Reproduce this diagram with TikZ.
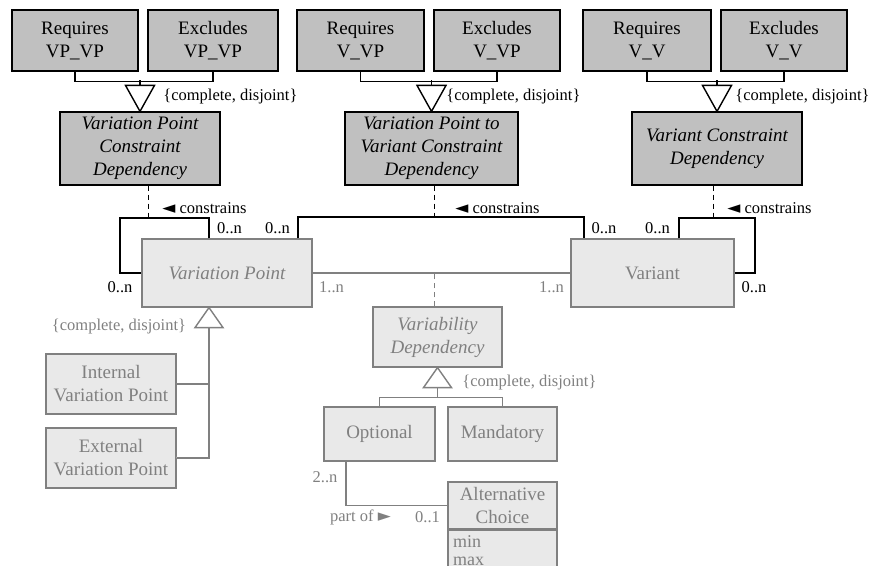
\documentclass[tikz,border=0pt]{standalone}
\usepackage{fontspec}
\setmainfont{Liberation Serif}
\newfontfamily\symfont{DejaVu Sans}
\definecolor{boxdark}{RGB}{192,192,192}
\definecolor{boxlight}{RGB}{233,233,233}
\definecolor{umlgrey}{RGB}{128,128,128}
\newcommand{\boxfont}{\fontsize{9.5}{11.5}\selectfont}
\newcommand{\lblfont}{\fontsize{8.25}{10}\selectfont}
\newcommand{\lpoint}{{\symfont\fontsize{8.5}{8.5}\selectfont ◄}}
\newcommand{\rpoint}{{\symfont\fontsize{8.5}{8.5}\selectfont ►}}

\begin{document}
\begin{tikzpicture}[x=0.5pt,y=-0.5pt,
	dark/.style={draw,line width=0.6pt,fill=boxdark,align=center,font=\boxfont,inner sep=1pt},
	light/.style={draw=umlgrey,line width=0.6pt,fill=boxlight,text=umlgrey,align=center,font=\boxfont,inner sep=1pt},
	lbl/.style={font=\lblfont,inner sep=0pt},
	glbl/.style={lbl,text=umlgrey},
	assoc/.style={line width=1pt},
	gassoc/.style={line width=0.8pt,draw=umlgrey},
	gen/.style={line width=0.7pt,fill=white,line join=miter},
	ggen/.style={gen,draw=umlgrey},
	dep/.style={line width=0.5pt,dash pattern=on 2.5pt off 2pt},
	gdep/.style={dep,draw=umlgrey}]
		\useasboundingbox (0,0) rectangle (872,566);
		\clip (0,0) rectangle (872,566);
		% constraint dependencies
		\node[dark,minimum width=63pt,minimum height=30.5pt] (RqVPVP) at (75,40.5) {Requires\\VP\_VP};
		\node[dark,minimum width=65pt,minimum height=30.5pt] (ExVPVP) at (213,40.5) {Excludes\\VP\_VP};
		\node[dark,minimum width=63.5pt,minimum height=30.5pt] (RqVVP) at (360.5,40.5) {Requires\\V\_VP};
		\node[dark,minimum width=63pt,minimum height=30.5pt] (ExVVP) at (497,40.5) {Excludes\\V\_VP};
		\node[dark,minimum width=64pt,minimum height=30.5pt] (RqVV) at (647,40.5) {Requires\\V\_V};
		\node[dark,minimum width=63pt,minimum height=30.5pt] (ExVV) at (784,40.5) {Excludes\\V\_V};
		\node[dark,minimum width=80pt,minimum height=36.5pt,font=\boxfont\itshape] (VPCD) at (140,148.5) {Variation Point\\Constraint\\Dependency};
		\node[dark,minimum width=86.5pt,minimum height=36.5pt,font=\boxfont\itshape] (VPVCD) at (431.5,148.5) {Variation Point to\\Variant Constraint\\Dependency};
		\node[dark,minimum width=85pt,minimum height=36.5pt,font=\boxfont\itshape] (VCD) at (717,148.5) {Variant Constraint\\Dependency};
		% variability model
		\node[light,minimum width=85pt,minimum height=34pt,font=\boxfont\itshape] (VP) at (227,273) {Variation Point};
		\node[light,minimum width=81.5pt,minimum height=34pt] (Var) at (652.5,273) {Variant};
		\node[light,minimum width=64.5pt,minimum height=30pt,font=\boxfont\itshape] (VD) at (437.5,337) {Variability\\Dependency};
		\node[light,minimum width=55.5pt,minimum height=27pt] (Opt) at (379.5,434) {Optional};
		\node[light,minimum width=54.5pt,minimum height=27pt] (Mand) at (502.5,434) {Mandatory};
		\node[light,minimum width=65pt,minimum height=30pt] (IVP) at (111,384) {Internal\\Variation Point};
		\node[light,minimum width=65pt,minimum height=30pt] (EVP) at (111,458) {External\\Variation Point};
		\node[light,minimum width=54.5pt,minimum height=23.5pt] (ACt) at (502.5,505.5) {Alternative\\Choice};
		\node[light,anchor=north,minimum width=54.5pt,text width=49.5pt,align=left,
			inner xsep=2.5pt,inner ysep=2.5pt,font=\fontsize{9}{9}\selectfont] (ACa) at (ACt.south) {min\\max\\\mbox{}};
		% generalisations
		\draw[gen] (VPCD.north) -- ++(-14.5,-26) -- ++(29,0) -- cycle;
		\draw[gen] (VPVCD.north) -- ++(-14.5,-26) -- ++(29,0) -- cycle;
		\draw[gen] (VCD.north) -- ++(-14.5,-26) -- ++(29,0) -- cycle;
		\coordinate (gVPCD) at ([yshift=13pt]VPCD.north);
		\coordinate (gVPVCD) at ([yshift=13pt]VPVCD.north);
		\coordinate (gVCD) at ([yshift=13pt]VCD.north);
		\draw[gen] (RqVPVP.south) -- ++(0,10) -| (ExVPVP.south);
		\draw[gen] (gVPCD) -- ++(0,-5);
		\draw[gen] (RqVVP.south) -- ++(0,10) -| (ExVVP.south);
		\draw[gen] (gVPVCD) -- ++(0,-5);
		\draw[gen] (RqVV.south) -- ++(0,10) -| (ExVV.south);
		\draw[gen] (gVCD) -- ++(0,-5);
		\node[lbl,anchor=west] (cdVPCD) at (163,97) {\{complete, disjoint\}};
		\node[lbl,anchor=west] (cdVPVCD) at (446,97) {\{complete, disjoint\}};
		\node[lbl,anchor=west] (cdVCD) at (735,97) {\{complete, disjoint\}};
		\draw[ggen] ([xshift=-9pt]VP.south) -- ++(-14,20) -- ++(28,0) -- cycle;
		\coordinate (gVP) at ([xshift=-9pt,yshift=-10pt]VP.south);
		\draw[ggen] (gVP) |- (EVP.east);
		\draw[ggen] (gVP |- IVP.east) -- (IVP.east);
		\node[glbl] (cdVP) at (119,327) {\{complete, disjoint\}};
		\draw[ggen] (VD.south) -- ++(-14,20) -- ++(28,0) -- cycle;
		\coordinate (gVD) at ([yshift=-10pt]VD.south);
		\draw[ggen] (gVD) -- ++(0,11);
		\draw[ggen] (Opt.north) -- ++(0,-9) -| (Mand.north);
		\node[glbl,anchor=west] (cdVD) at (462,383) {\{complete, disjoint\}};
		% associations
		\coordinate (loopVP) at (120,218);
		\coordinate (loopVar) at (755,218);
		\draw[assoc] ([xshift=-9pt]VP.north) |- (loopVP) |- (VP.west);
		\draw[assoc] ([xshift=35.5pt]VP.north) -- ++(0,-21) -| ([xshift=-34.25pt]Var.north);
		\draw[assoc] ([xshift=13.25pt]Var.north) |- (loopVar) |- (Var.east);
		\coordinate (dVPCD) at (148,218);
		\coordinate (dVPVCD) at (434,218);
		\coordinate (dVCD) at (713,218);
		\draw[dep] ([xshift=4pt]VPCD.south) -- (dVPCD);
		\draw[dep] ([xshift=1.25pt]VPVCD.south) -- (dVPVCD);
		\draw[dep] ([xshift=-2pt]VCD.south) -- (dVCD);
		\draw[gassoc] (VP.east) -- (Var.west);
		\draw[gdep] ([xshift=-1.75pt]VD.north) -- ([xshift=-1.75pt]VD.north |- VP.east);
		\draw[gassoc] ([xshift=-16.75pt]Opt.south) |- (ACt.west);
		% association labels
		\node[lbl,anchor=west] (cVP) at (162,208) {\lpoint{} constrains};
		\node[lbl,anchor=west] (cVPV) at (455,208) {\lpoint{} constrains};
		\node[lbl,anchor=west] (cVar) at (727,208) {\lpoint{} constrains};
		\node[lbl] (m1) at (229.5,228) {0..n};
		\node[lbl] (m2) at (277.5,228) {0..n};
		\node[lbl] (m3) at (120,287) {0..n};
		\node[lbl] (m4) at (604,228) {0..n};
		\node[lbl] (m5) at (657.5,228) {0..n};
		\node[lbl] (m6) at (754,287) {0..n};
		\node[glbl] (m7) at (331.5,287) {1..n};
		\node[glbl] (m8) at (551.5,287) {1..n};
		\node[glbl] (m9) at (325,477) {2..n};
		\node[glbl] (pof) at (360.5,517) {part of \rpoint};
		\node[glbl] (m10) at (427.5,517) {0..1};
	\end{tikzpicture}
\end{document}
